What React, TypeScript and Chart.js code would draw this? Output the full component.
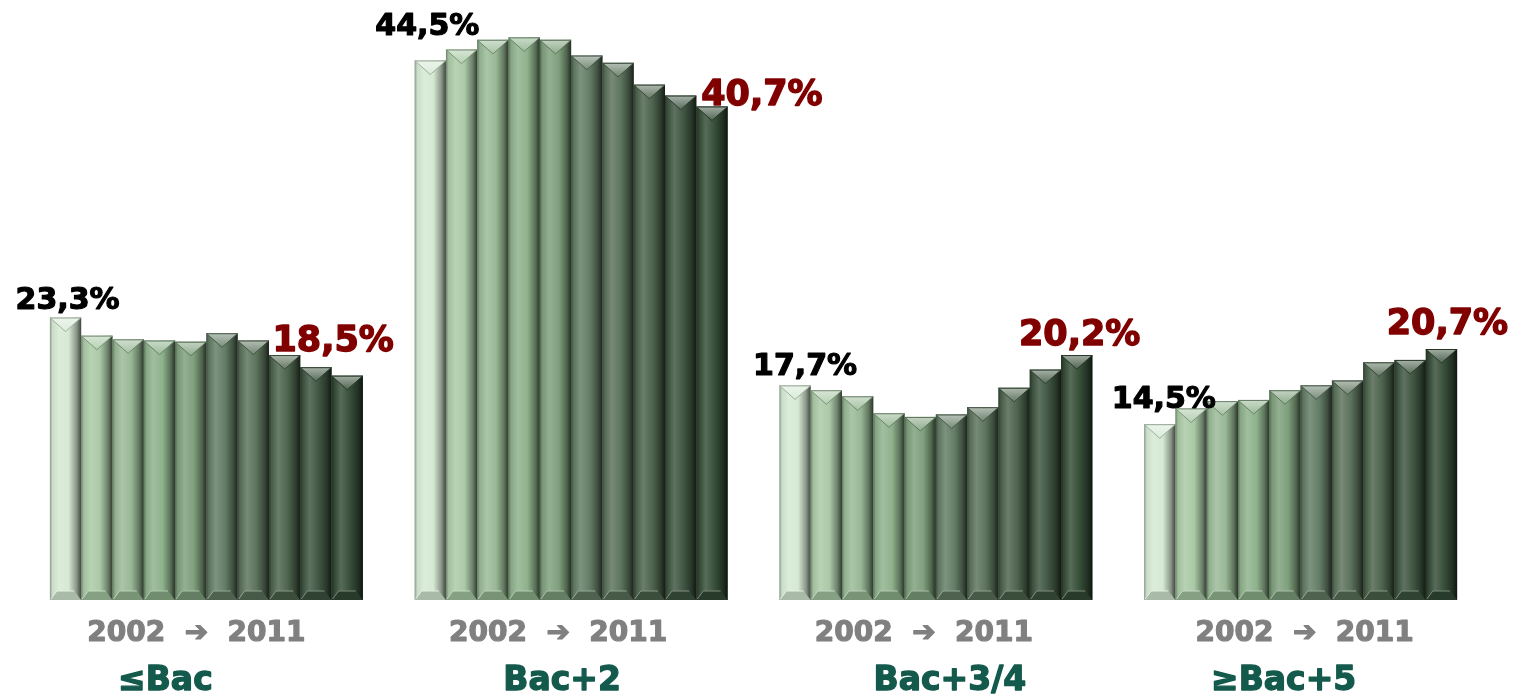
import React, { useEffect, useRef } from "react";
import { Chart, registerables } from "chart.js";

Chart.register(...registerables);

// ---------- data ----------
const categories = ["≤Bac", "Bac+2", "Bac+3/4", "≥Bac+5"];
const years = ["2002", "2003", "2004", "2005", "2006", "2007", "2008", "2009", "2010", "2011"];
const bacOrLess = [23.3, 21.8, 21.5, 21.4, 21.3, 22.0, 21.4, 20.2, 19.2, 18.5];
const bacPlus2 = [44.5, 45.4, 46.2, 46.4, 46.2, 44.9, 44.3, 42.5, 41.6, 40.7];
const bacPlus34 = [17.7, 17.3, 16.8, 15.4, 15.1, 15.3, 15.9, 17.5, 19.0, 20.2];
const bacPlus5 = [14.5, 15.8, 16.4, 16.5, 17.3, 17.7, 18.1, 19.6, 19.8, 20.7];
const firstLabels = ["23,3%", "44,5%", "17,7%", "14,5%"];
const lastLabels = ["18,5%", "40,7%", "20,2%", "20,7%"];
const periodLabel = "2002  ➔  2011";

// ---------- styles ----------
const barColors = [
  "#d4e9d2", "#a8c8a4", "#97b894", "#8cb08a", "#7c9e7a",
  "#617a63", "#597059", "#4a614a", "#3c533e", "#324a34",
];
const FONT = '"DejaVu Sans", Verdana, sans-serif';
// label nudges relative to the bar they annotate: [dx, gap above bar top]
const firstNudge = [[2, 8], [-3, 25], [10, 10], [4, 16]];
const lastNudge = [[-14, 25], [50, 2], [3, 10], [6, 15]];
const periodDx = [-10, -13, -12, 4];
const nameDx = [-41, -9, 14, -17];

function shade(hex: string, amt: number): string {
  const n = parseInt(hex.slice(1), 16);
  let r = (n >> 16) & 255, g = (n >> 8) & 255, b = n & 255;
  const t = amt > 0 ? 255 : 0;
  const p = Math.abs(amt);
  r = Math.round(r + (t - r) * p);
  g = Math.round(g + (t - g) * p);
  b = Math.round(b + (t - b) * p);
  return `rgb(${r},${g},${b})`;
}

function heavyText(ctx: CanvasRenderingContext2D, text: string, x: number, y: number, color: string, font: string, weight: number) {
  ctx.font = font;
  ctx.fillStyle = color;
  ctx.strokeStyle = color;
  ctx.lineWidth = weight;
  ctx.lineJoin = "round";
  ctx.strokeText(text, x, y);
  ctx.fillText(text, x, y);
}

const bevelPlugin = {
  id: "bevel",
  afterDatasetsDraw(chart: any) {
    const ctx: CanvasRenderingContext2D = chart.ctx;
    chart.data.datasets.forEach((_ds: any, di: number) => {
      const meta = chart.getDatasetMeta(di);
      const col = barColors[di];
      meta.data.forEach((el: any) => {
        const { x, y, base, width } = el.getProps(["x", "y", "base", "width"], true);
        const L = x - width / 2;
        const R = x + width / 2;
        const top = y;
        const bot = base;
        ctx.save();
        // body gradient
        const g = ctx.createLinearGradient(L, 0, R, 0);
        g.addColorStop(0, shade(col, -0.35));
        g.addColorStop(0.08, shade(col, -0.05));
        g.addColorStop(0.3, shade(col, 0.18));
        g.addColorStop(0.6, shade(col, 0.02));
        g.addColorStop(0.85, shade(col, -0.35));
        g.addColorStop(1, shade(col, -0.7));
        ctx.fillStyle = g;
        ctx.fillRect(L, top, width, bot - top);
        // top chevron facet
        const h = width * 0.45;
        const tg = ctx.createLinearGradient(0, top, 0, top + h);
        tg.addColorStop(0, shade(col, 0.55));
        tg.addColorStop(1, shade(col, 0.15));
        ctx.beginPath();
        ctx.moveTo(L, top);
        ctx.lineTo(R, top);
        ctx.lineTo(x, top + h);
        ctx.closePath();
        ctx.fillStyle = tg;
        ctx.fill();
        ctx.strokeStyle = shade(col, -0.25);
        ctx.lineWidth = 1;
        ctx.beginPath();
        ctx.moveTo(L + 1, top + 1);
        ctx.lineTo(x, top + h);
        ctx.lineTo(R - 1, top + 1);
        ctx.stroke();
        ctx.strokeStyle = shade(col, -0.3);
        ctx.beginPath();
        ctx.moveTo(L, top + 0.5);
        ctx.lineTo(R, top + 0.5);
        ctx.stroke();
        // bottom bevel
        const bh = 9;
        const bi = 7;
        ctx.beginPath();
        ctx.moveTo(L, bot);
        ctx.lineTo(R, bot);
        ctx.lineTo(R - bi, bot - bh);
        ctx.lineTo(L + bi, bot - bh);
        ctx.closePath();
        ctx.fillStyle = shade(col, -0.2);
        ctx.fill();
        ctx.strokeStyle = shade(col, 0.35);
        ctx.beginPath();
        ctx.moveTo(L + 1, bot - 1);
        ctx.lineTo(L + bi, bot - bh);
        ctx.lineTo(R - bi, bot - bh);
        ctx.stroke();
        ctx.restore();
      });
    });
  },
  afterDraw(chart: any) {
    const ctx: CanvasRenderingContext2D = chart.ctx;
    const firstMeta = chart.getDatasetMeta(0);
    const lastMeta = chart.getDatasetMeta(years.length - 1);
    const xs = chart.scales.x;
    ctx.save();
    ctx.textAlign = "center";
    ctx.textBaseline = "alphabetic";
    categories.forEach((cat, i) => {
      const f = firstMeta.data[i];
      const l = lastMeta.data[i];
      heavyText(ctx, firstLabels[i], f.x + firstNudge[i][0], f.y - firstNudge[i][1], "#000000", `bold 30px ${FONT}`, 1.2);
      heavyText(ctx, lastLabels[i], l.x + lastNudge[i][0], l.y - lastNudge[i][1], "#800000", `bold 35px ${FONT}`, 1.4);
      const cx = xs.getPixelForValue(i);
      heavyText(ctx, periodLabel, cx + periodDx[i], 641, "#808080", `bold 28px ${FONT}`, 1.2);
      heavyText(ctx, cat, cx + nameDx[i], 690, "#145a4c", `bold 33px ${FONT}`, 1.3);
    });
    ctx.restore();
  },
};

export default function App() {
  const ref = useRef<HTMLCanvasElement>(null);
  useEffect(() => {
    if (!ref.current) return;
    const groups = [bacOrLess, bacPlus2, bacPlus34, bacPlus5];
    const datasets = years.map((yr, yi) => ({
      label: yr,
      data: groups.map((g) => g[yi]),
      backgroundColor: barColors[yi],
      borderWidth: 0,
      categoryPercentage: 0.858,
      barPercentage: 1.0,
    }));
    const chart = new Chart(ref.current, {
      type: "bar",
      data: { labels: categories, datasets },
      options: {
        animation: false,
        responsive: false,
        layout: { padding: { left: 24, right: 35, top: 18, bottom: 95 } },
        plugins: { legend: { display: false }, tooltip: { enabled: false } },
        scales: {
          x: { display: false },
          y: { display: false, min: 0, max: 48 },
        },
      },
      plugins: [bevelPlugin],
    });
    return () => chart.destroy();
  }, []);
  return (
    <div style={{ position: "fixed", left: 0, top: 0, width: 1518, height: 695, background: "#fff" }}>
      <canvas ref={ref} width={1518} height={695} />
    </div>
  );
}
